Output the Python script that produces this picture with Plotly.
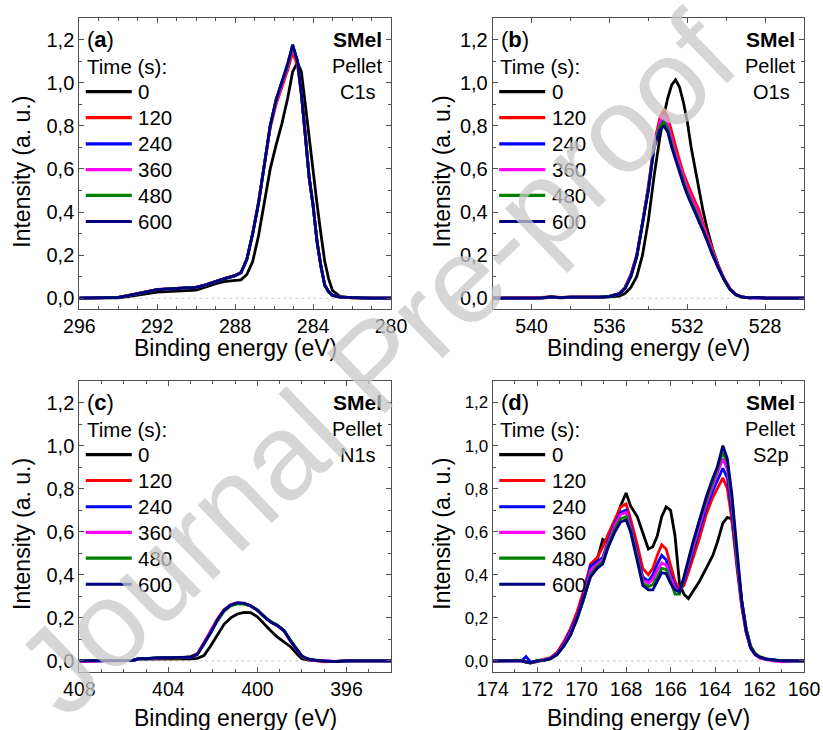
import plotly.graph_objects as go

# ---------------------------------------------------------------------------
# XPS spectra of SMel pellets after Ar+ sputtering (normalised intensity)
# ---------------------------------------------------------------------------
TIMES = ["0", "120", "240", "360", "480", "600"]
COLORS = ["#000000", "#ff0000", "#0000ff", "#ff00ff", "#008000", "#000080"]

# --- C1s ---------------------------------------------------------------
E_C1S = [296, 295, 294, 293.5, 293, 292.5, 292, 291, 290, 289.5, 289, 288.5,
         288, 287.7, 287.4, 287.1, 286.8, 286.5, 286.2, 285.9, 285.6, 285.3,
         285.05, 284.8, 284.6, 284.4, 284.2, 284.0, 283.8, 283.6, 283.4,
         283.2, 283.0, 282.6, 282, 281, 280]
C1S_0 = [0, 0, 0.002, 0.008, 0.015, 0.022, 0.028, 0.033, 0.038, 0.052, 0.068,
         0.078, 0.082, 0.085, 0.11, 0.17, 0.29, 0.44, 0.60, 0.71, 0.81, 0.93,
         1.05, 1.095, 1.05, 0.90, 0.74, 0.58, 0.44, 0.30, 0.17, 0.09, 0.035,
         0.008, 0.002, 0, 0]
C1S_120 = [0, 0.001, 0.004, 0.013, 0.023, 0.033, 0.041, 0.046, 0.051, 0.063,
           0.079, 0.093, 0.106, 0.12, 0.18, 0.30, 0.45, 0.61, 0.79, 0.90, 0.98,
           1.06, 1.14, 1.08, 0.94, 0.77, 0.56, 0.43, 0.265, 0.15, 0.06, 0.03,
           0.014, 0.005, 0.002, 0, 0]
C1S_240 = [0, 0.001, 0.004, 0.012, 0.022, 0.032, 0.040, 0.045, 0.050, 0.062,
           0.078, 0.092, 0.105, 0.118, 0.18, 0.30, 0.44, 0.62, 0.80, 0.92,
           1.00, 1.08, 1.17, 1.10, 0.95, 0.77, 0.56, 0.43, 0.265, 0.15, 0.06,
           0.03, 0.013, 0.005, 0.002, 0, 0]
C1S_360 = [0, 0.001, 0.004, 0.012, 0.022, 0.032, 0.040, 0.045, 0.050, 0.062,
           0.078, 0.092, 0.105, 0.118, 0.18, 0.30, 0.44, 0.62, 0.80, 0.91,
           0.99, 1.07, 1.16, 1.09, 0.95, 0.77, 0.56, 0.43, 0.265, 0.15, 0.06,
           0.03, 0.013, 0.005, 0.002, 0, 0]
C1S_480 = [0, 0.001, 0.004, 0.012, 0.022, 0.032, 0.040, 0.045, 0.050, 0.062,
           0.078, 0.092, 0.105, 0.118, 0.18, 0.30, 0.44, 0.62, 0.80, 0.92,
           1.00, 1.08, 1.17, 1.10, 0.95, 0.77, 0.56, 0.43, 0.265, 0.15, 0.06,
           0.03, 0.013, 0.005, 0.002, 0, 0]
C1S_600 = [0, 0.001, 0.004, 0.012, 0.022, 0.032, 0.040, 0.045, 0.050, 0.062,
           0.078, 0.092, 0.105, 0.118, 0.18, 0.30, 0.44, 0.62, 0.80, 0.92,
           1.00, 1.09, 1.177, 1.10, 0.95, 0.77, 0.56, 0.43, 0.265, 0.15, 0.06,
           0.03, 0.013, 0.005, 0.002, 0, 0]

# --- O1s ---------------------------------------------------------------
E_O1S = [542, 541, 540, 539.5, 539, 538.5, 538, 537.5, 537, 536.5, 536, 535.5,
         535.2, 534.9, 534.6, 534.3, 534.0, 533.7, 533.4, 533.2, 533.0, 532.8,
         532.6, 532.4, 532.2, 532.0, 531.8, 531.6, 531.4, 531.2, 531.0, 530.7,
         530.4, 530.1, 529.8, 529.5, 529.2, 528.8, 528.4, 528, 527, 526]
O1S_0 = [0, 0, 0.002, 0.001, 0.004, 0.002, 0.004, 0.003, 0.004, 0.003, 0.006,
         0.01, 0.022, 0.05, 0.10, 0.20, 0.36, 0.57, 0.75, 0.85, 0.93, 0.99,
         1.013, 0.98, 0.91, 0.82, 0.70, 0.60, 0.50, 0.41, 0.33, 0.23, 0.15,
         0.085, 0.04, 0.015, 0.005, 0.002, 0.002, 0, 0, 0]
O1S_120 = [0, 0.001, 0.003, 0.004, 0.007, 0.004, 0.006, 0.005, 0.007, 0.006,
           0.01, 0.022, 0.05, 0.11, 0.20, 0.35, 0.52, 0.72, 0.84, 0.875, 0.84,
           0.77, 0.70, 0.64, 0.58, 0.53, 0.49, 0.45, 0.41, 0.35, 0.30, 0.22,
           0.15, 0.09, 0.045, 0.018, 0.006, 0.002, 0.004, 0.001, 0, 0]
O1S_240 = [0, 0.001, 0.003, 0.002, 0.006, 0.003, 0.005, 0.004, 0.006, 0.005,
           0.009, 0.021, 0.048, 0.105, 0.195, 0.345, 0.51, 0.71, 0.81, 0.84,
           0.80, 0.73, 0.66, 0.61, 0.55, 0.50, 0.46, 0.42, 0.38, 0.33, 0.28,
           0.21, 0.145, 0.087, 0.042, 0.017, 0.006, 0.002, 0.003, 0.001, 0, 0]
O1S_360 = [0, 0.001, 0.003, 0.003, 0.006, 0.004, 0.005, 0.004, 0.006, 0.005,
           0.009, 0.021, 0.048, 0.105, 0.195, 0.345, 0.515, 0.715, 0.82, 0.85,
           0.81, 0.74, 0.67, 0.62, 0.56, 0.51, 0.47, 0.43, 0.39, 0.335, 0.285,
           0.21, 0.145, 0.087, 0.042, 0.017, 0.006, 0.002, 0.003, 0.001, 0, 0]
O1S_480 = [0, 0.001, 0.003, 0.002, 0.006, 0.003, 0.005, 0.004, 0.006, 0.005,
           0.009, 0.02, 0.046, 0.10, 0.19, 0.34, 0.505, 0.705, 0.80, 0.82,
           0.785, 0.715, 0.65, 0.60, 0.54, 0.49, 0.45, 0.41, 0.37, 0.32, 0.275,
           0.20, 0.14, 0.085, 0.041, 0.017, 0.006, 0.002, 0.004, 0.001, 0, 0]
O1S_600 = [0, 0.001, 0.003, 0.002, 0.006, 0.003, 0.005, 0.004, 0.006, 0.005,
           0.009, 0.02, 0.045, 0.10, 0.19, 0.34, 0.50, 0.70, 0.78, 0.80, 0.77,
           0.70, 0.64, 0.59, 0.53, 0.48, 0.44, 0.40, 0.36, 0.315, 0.27, 0.20,
           0.14, 0.085, 0.04, 0.017, 0.006, 0.002, 0.004, 0.001, 0, 0]

# --- N1s ---------------------------------------------------------------
E_N1S = [408, 407, 406, 405.6, 405.3, 405, 404.5, 404, 403.5, 403, 402.7,
         402.4, 402.1, 401.8, 401.5, 401.2, 400.9, 400.6, 400.3, 400.0, 399.7,
         399.4, 399.1, 398.8, 398.5, 398.2, 398.0, 397.7, 397.4, 397, 396.5,
         396, 395, 394]
N1S_0 = [0, 0.0, 0.001, 0.002, 0.008, 0.008, 0.01, 0.011, 0.011, 0.01, 0.012,
         0.025, 0.07, 0.12, 0.17, 0.20, 0.218, 0.225, 0.224, 0.205, 0.17, 0.14,
         0.11, 0.088, 0.065, 0.03, 0.01, 0.004, 0.001, -0.002, -0.002, 0, 0, 0]
N1S_120 = [-0.002, 0.002, 0.001, 0.004, 0.012, 0.012, 0.013, 0.016, 0.013,
           0.02, 0.034, 0.085, 0.14, 0.195, 0.238, 0.262, 0.268, 0.265, 0.255,
           0.235, 0.205, 0.18, 0.163, 0.138, 0.09, 0.05, 0.02, 0.006, 0.002,
           -0.004, -0.002, 0.0, 0, 0]
N1S_240 = [0, 0.001, 0.003, 0.003, 0.012, 0.01, 0.015, 0.014, 0.016, 0.017,
           0.03, 0.08, 0.135, 0.19, 0.235, 0.26, 0.27, 0.266, 0.256, 0.236,
           0.206, 0.18, 0.164, 0.14, 0.092, 0.05, 0.022, 0.008, 0.003, 0.0,
           -0.003, 0.0, 0, 0]
N1S_360 = [-0.003, 0.001, 0.002, 0.002, 0.011, 0.012, 0.014, 0.015, 0.015,
           0.018, 0.032, 0.082, 0.138, 0.192, 0.236, 0.26, 0.268, 0.266, 0.255,
           0.236, 0.207, 0.182, 0.166, 0.14, 0.09, 0.049, 0.021, 0.007, 0.002,
           0.001, -0.002, 0.0, 0, 0]
N1S_480 = [0, 0.002, 0.002, 0.003, 0.012, 0.011, 0.015, 0.014, 0.014, 0.02,
           0.03, 0.078, 0.13, 0.185, 0.23, 0.255, 0.265, 0.264, 0.256, 0.237,
           0.208, 0.183, 0.166, 0.14, 0.094, 0.05, 0.022, 0.008, 0.003, -0.001,
           -0.002, 0.0, 0, 0]
N1S_600 = [0, 0.001, 0.002, 0.003, 0.012, 0.011, 0.014, 0.015, 0.014, 0.018,
           0.03, 0.08, 0.13, 0.19, 0.235, 0.26, 0.27, 0.268, 0.256, 0.235,
           0.205, 0.18, 0.165, 0.14, 0.09, 0.05, 0.022, 0.008, 0.003, 0.0,
           -0.003, 0.0, 0, 0]

# --- S2p ---------------------------------------------------------------
E_S2P = [174, 173.5, 173, 172.7, 172.5, 172.3, 172, 171.7, 171.4, 171.1,
         170.8, 170.5, 170.2, 169.9, 169.6, 169.3, 169.05, 168.8, 168.5,
         168.25, 168.0, 167.8, 167.5, 167.25, 167.0, 166.8, 166.6, 166.4,
         166.2, 166.0, 165.8, 165.6, 165.4, 165.2, 165.0, 164.7, 164.4, 164.1,
         163.9, 163.65, 163.45, 163.25, 163.0, 162.8, 162.6, 162.4, 162.2,
         162.0, 161.7, 161.4, 161.0, 160.5, 160]
S2P_0 = [0, 0, 0.003, 0.0, -0.006, -0.01, -0.003, 0.003, 0.01, 0.03, 0.07,
         0.13, 0.20, 0.29, 0.40, 0.47, 0.565, 0.55, 0.64, 0.72, 0.78, 0.72,
         0.67, 0.60, 0.52, 0.53, 0.58, 0.67, 0.715, 0.70, 0.58, 0.36, 0.31,
         0.29, 0.32, 0.37, 0.43, 0.49, 0.55, 0.64, 0.667, 0.66, 0.45, 0.28,
         0.15, 0.07, 0.035, 0.02, 0.01, 0.005, 0.0, 0.0, 0]
S2P_120 = [0, 0, 0.004, 0.002, -0.004, -0.008, 0.0, 0.006, 0.015, 0.04, 0.09,
           0.15, 0.23, 0.33, 0.45, 0.48, 0.53, 0.59, 0.66, 0.715, 0.73, 0.66,
           0.54, 0.43, 0.40, 0.43, 0.49, 0.54, 0.52, 0.44, 0.37, 0.33, 0.35,
           0.41, 0.47, 0.57, 0.68, 0.76, 0.80, 0.85, 0.80, 0.66, 0.42, 0.25,
           0.13, 0.06, 0.03, 0.018, 0.01, 0.004, 0.002, 0.0, 0]
S2P_240 = [0, 0, 0.003, 0.001, 0.02, -0.006, 0.0, 0.004, 0.012, 0.035, 0.08,
           0.14, 0.21, 0.31, 0.44, 0.46, 0.48, 0.56, 0.64, 0.69, 0.70, 0.63,
           0.50, 0.39, 0.37, 0.40, 0.45, 0.49, 0.47, 0.40, 0.35, 0.32, 0.37,
           0.44, 0.51, 0.61, 0.71, 0.79, 0.84, 0.895, 0.85, 0.70, 0.44, 0.26,
           0.135, 0.06, 0.03, 0.015, 0.008, 0.004, 0.0, 0.0, 0]
S2P_360 = [0, 0, 0.002, 0.0, -0.004, -0.009, 0.0, 0.005, 0.011, 0.033, 0.075,
           0.13, 0.205, 0.30, 0.42, 0.45, 0.47, 0.55, 0.63, 0.68, 0.69, 0.62,
           0.49, 0.375, 0.36, 0.38, 0.42, 0.455, 0.445, 0.385, 0.34, 0.32, 0.38,
           0.455, 0.525, 0.63, 0.73, 0.815, 0.87, 0.94, 0.89, 0.74, 0.46,
           0.27, 0.14, 0.06, 0.03, 0.014, 0.006, 0.0, -0.004, 0.0, 0]
S2P_480 = [0, 0, 0.003, 0.002, -0.006, -0.01, 0.002, 0.004, 0.01, 0.03, 0.07,
           0.12, 0.195, 0.29, 0.40, 0.44, 0.46, 0.54, 0.615, 0.66, 0.67, 0.61,
           0.48, 0.36, 0.345, 0.355, 0.39, 0.43, 0.425, 0.37, 0.31, 0.31, 0.385,
           0.46, 0.535, 0.65, 0.745, 0.83, 0.89, 0.97, 0.92, 0.76, 0.47, 0.28,
           0.145, 0.065, 0.035, 0.018, 0.008, 0.004, 0.0, 0.0, 0]
S2P_600 = [0, 0, 0.002, 0.0, -0.005, -0.008, 0.0, 0.003, 0.01, 0.03, 0.07,
           0.12, 0.20, 0.29, 0.39, 0.43, 0.45, 0.53, 0.60, 0.645, 0.655, 0.60,
           0.47, 0.35, 0.33, 0.33, 0.37, 0.41, 0.405, 0.36, 0.33, 0.32, 0.39,
           0.47, 0.55, 0.655, 0.76, 0.85, 0.90, 1.0, 0.94, 0.78, 0.48, 0.28,
           0.14, 0.06, 0.03, 0.018, 0.008, 0.004, 0.0, 0.0, 0]

PANELS = [
    dict(tag="a", core="C1s", energy=E_C1S,
         series=[C1S_0, C1S_120, C1S_240, C1S_360, C1S_480, C1S_600],
         xrange=[296, 280], dtick=4, tick0=280, minor=1),
    dict(tag="b", core="O1s", energy=E_O1S,
         series=[O1S_0, O1S_120, O1S_240, O1S_360, O1S_480, O1S_600],
         xrange=[542, 526], dtick=4, tick0=528, minor=2),
    dict(tag="c", core="N1s", energy=E_N1S,
         series=[N1S_0, N1S_120, N1S_240, N1S_360, N1S_480, N1S_600],
         xrange=[408, 394], dtick=4, tick0=396, minor=1),
    dict(tag="d", core="S2p", energy=E_S2P,
         series=[S2P_0, S2P_120, S2P_240, S2P_360, S2P_480, S2P_600],
         xrange=[174, 160], dtick=2, tick0=160, minor=1),
]

# panel frames in pixels (left, right, top, bottom) on an 823 x 730 canvas
W, H = 823, 730
FRAMES = [(79.3, 391.0, 18.0, 309.0), (492.7, 804.0, 18.0, 309.0),
          (79.3, 391.0, 381.0, 671.7), (492.7, 804.0, 381.0, 671.7)]
# axis-title anchor points in pixels: (x-title centre y, y-title centre x/y)
XTITLE_Y = [348, 348, 718, 718]
YTITLE_XY = [(22, 171.7), (441.7, 171.7), (22, 534), (441.7, 534)]

FONT = "Liberation Sans, Arial, sans-serif"
AXC = "#505050"

fig = go.Figure()
layout = dict(width=W, height=H, margin=dict(l=0, r=0, t=0, b=0),
              paper_bgcolor="white", plot_bgcolor="white",
              showlegend=False, separators=",.",
              font=dict(family=FONT, color="black"))
annotations, shapes = [], []

# vertical placement of the in-panel text block (y data units)
Y_TAG, Y_HEAD = 1.2, 1.077
Y_ROWS = [0.958, 0.838, 0.716, 0.597, 0.477, 0.356]

for i, p in enumerate(PANELS):
    n = "" if i == 0 else str(i + 1)
    xa, ya = "x" + n, "y" + n
    l, r, t, b = FRAMES[i]
    for lab, col, vals in zip(TIMES, COLORS, p["series"]):
        fig.add_trace(go.Scatter(x=p["energy"], y=vals, mode="lines",
                                 name=lab, xaxis=xa, yaxis=ya,
                                 line=dict(color=col, width=2.8),
                                 hoverinfo="skip"))
    ytick_size = 17 if p["tag"] == "d" else 20
    layout["xaxis" + n] = dict(
        domain=[l / W, r / W], anchor=ya, range=p["xrange"],
        dtick=p["dtick"], tick0=p["tick0"], ticks="inside", ticklen=5,
        tickcolor=AXC, showline=True, linecolor=AXC, linewidth=1,
        mirror="ticks", showgrid=False, zeroline=False, automargin=False,
        tickfont=dict(size=19.5, family=FONT),
        minor=dict(dtick=p["minor"], ticks="inside", ticklen=3,
                   tickcolor=AXC, showgrid=False))
    layout["yaxis" + n] = dict(
        domain=[1 - b / H, 1 - t / H], anchor=xa, range=[-0.05, 1.3],
        dtick=0.2, tick0=0, tickformat=".1f", ticks="inside", ticklen=5,
        tickcolor=AXC, showline=True, linecolor=AXC, linewidth=1,
        mirror="ticks", showgrid=False, zeroline=False, automargin=False,
        tickfont=dict(size=ytick_size, family=FONT),
        minor=dict(dtick=0.1, ticks="inside", ticklen=3, tickcolor=AXC,
                   showgrid=False))

    # axis titles
    annotations.append(dict(xref="paper", yref="paper",
                            x=(l + r) / 2 / W, y=1 - XTITLE_Y[i] / H,
                            text="Binding energy (eV)", showarrow=False,
                            xanchor="center", yanchor="middle",
                            font=dict(size=23, family=FONT)))
    tx, ty = YTITLE_XY[i]
    annotations.append(dict(xref="paper", yref="paper", x=tx / W,
                            y=1 - ty / H, text="Intensity (a. u.)",
                            showarrow=False, textangle=-90,
                            xanchor="center", yanchor="middle",
                            font=dict(size=23, family=FONT)))

    xd = xa + " domain"
    wpx = r - l

    def fx(px):
        return px / wpx

    # dotted zero reference
    shapes.append(dict(type="line", xref=xd, yref=ya, x0=0, x1=1, y0=0, y1=0,
                       line=dict(color="#c8c8c8", width=1, dash="dot"),
                       layer="below"))
    # panel letter and header
    annotations.append(dict(xref=xd, yref=ya, x=fx(6.0), y=Y_TAG,
                            text="(<b>%s</b>)" % p["tag"], showarrow=False,
                            xanchor="left", yanchor="middle",
                            font=dict(size=22, family=FONT)))
    annotations.append(dict(xref=xd, yref=ya, x=fx(5.5), y=Y_HEAD,
                            text="Time (s):", showarrow=False,
                            xanchor="left", yanchor="middle",
                            font=dict(size=20.5, family=FONT)))
    annotations.append(dict(xref=xd, yref=ya, x=1 - fx(7.0), y=Y_TAG,
                            text="<b>SMel</b>", showarrow=False,
                            xanchor="right", yanchor="middle",
                            font=dict(size=21, family=FONT)))
    annotations.append(dict(xref=xd, yref=ya, x=1 - fx(7.0), y=Y_HEAD,
                            text="Pellet", showarrow=False,
                            xanchor="right", yanchor="middle",
                            font=dict(size=20, family=FONT)))
    annotations.append(dict(xref=xd, yref=ya, x=1 - fx(33), y=Y_ROWS[0],
                            text=p["core"], showarrow=False,
                            xanchor="center", yanchor="middle",
                            font=dict(size=20, family=FONT)))
    # key: line swatch + label for each sputtering time
    for lab, col, yk in zip(TIMES, COLORS, Y_ROWS):
        shapes.append(dict(type="line", xref=xd, yref=ya, x0=fx(6.5),
                           x1=fx(52.5), y0=yk, y1=yk,
                           line=dict(color=col, width=3.2)))
        annotations.append(dict(xref=xd, yref=ya, x=fx(57.0), y=yk,
                                text=lab, showarrow=False, xanchor="left",
                                yanchor="middle",
                                font=dict(size=20.5, family=FONT)))

# journal watermark across the figure
annotations.append(dict(xref="paper", yref="paper", x=376 / W, y=1 - 364 / H,
                        text="Journal Pre-proof", showarrow=False,
                        textangle=-44, xanchor="center", yanchor="middle",
                        font=dict(size=122, family=FONT,
                                  color="rgba(200,200,200,0.75)")))

layout["annotations"] = annotations
layout["shapes"] = shapes
fig.update_layout(**layout)
fig.write_html("out.html")
